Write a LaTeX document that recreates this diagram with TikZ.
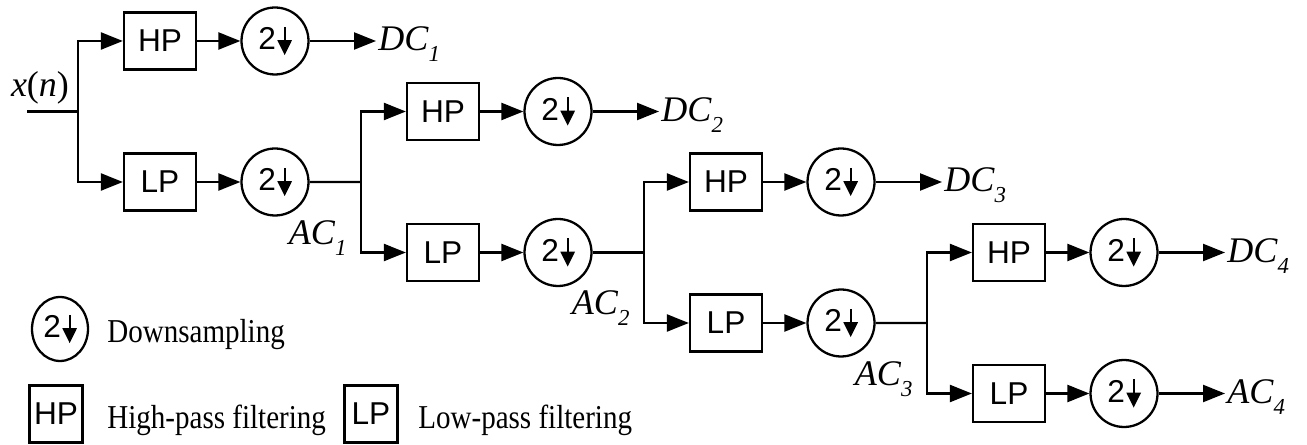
\documentclass[tikz,border=0pt]{standalone}
\usepackage{fontspec}
\setmainfont{Liberation Serif}
\setsansfont{Liberation Sans}
\newfontfamily\legendfont[FakeStretch=0.87]{Liberation Serif}
\usepackage{tikz}
\usetikzlibrary{arrows.meta,shapes.geometric}
\newcommand\dsarrow{\tikz[baseline=0pt]\draw[line width=1.3pt,-{Triangle[length=3mm,width=2.8mm]}] (0,0.72em) -- (0,-0.18em);}
\newcommand\twodown{\raisebox{-0.12em}{2\hspace{1pt}\dsarrow}}
\newcommand\sig[2]{\textit{#1}\raisebox{-0.3em}{\fontsize{13pt}{13pt}\selectfont\itshape #2}}
\tikzset{
  filterbox/.style={draw,line width=1.3pt,minimum width=1.44cm,minimum height=1.14cm,inner sep=0pt,
    font=\sffamily\fontsize{18pt}{18pt}\selectfont},
  downbox/.style={draw,circle,line width=1.3pt,minimum size=1.34cm,inner sep=0pt,
    font=\sffamily\fontsize{18pt}{18pt}\selectfont},
  signalarrow/.style={-{Triangle[length=4.4mm,width=3.4mm]},line width=1.3pt},
  signalline/.style={line width=1.3pt},
  signallabel/.style={inner sep=0pt,font=\fontsize{20.5pt}{20.5pt}\selectfont},
  legendtext/.style={inner sep=0pt,anchor=base west,font=\legendfont\fontsize{19pt}{19pt}\selectfont}
}
\begin{document}
\begin{tikzpicture}[x=0.02cm,y=-0.02cm]
  \useasboundingbox (0,0) rectangle (1307,445);
  \coordinate (input) at (27,111.5);
  \node[signallabel,anchor=base] (xlab) at (40,97) {\textit{x}(\textit{n})};
  \begin{scope}[shift={(78,41)}]
    \coordinate (splitone) at (0,70.5);
    \node[filterbox] (hpone) at (82,0) {HP};
    \node[downbox] (hdone) at (197,0) {\twodown};
    \coordinate (dcone) at (298,0);
    \node[signallabel,anchor=base west] (dconelab) at (300,10) {\sig{DC}{1}};
    \node[filterbox] (lpone) at (82,141) {LP};
    \node[downbox] (ldone) at (197,141) {\twodown};
    \node[signallabel,anchor=base east] (aconelab) at (269,203.5) {\sig{AC}{1}};
  \end{scope}
  \begin{scope}[shift={(361,111.5)}]
    \coordinate (splittwo) at (0,70.5);
    \node[filterbox] (hptwo) at (82,0) {HP};
    \node[downbox] (hdtwo) at (197,0) {\twodown};
    \coordinate (dctwo) at (298,0);
    \node[signallabel,anchor=base west] (dctwolab) at (300,10) {\sig{DC}{2}};
    \node[filterbox] (lptwo) at (82,141) {LP};
    \node[downbox] (ldtwo) at (197,141) {\twodown};
    \node[signallabel,anchor=base east] (actwolab) at (269,203.5) {\sig{AC}{2}};
  \end{scope}
  \begin{scope}[shift={(644,182)}]
    \coordinate (splitthree) at (0,70.5);
    \node[filterbox] (hpthree) at (82,0) {HP};
    \node[downbox] (hdthree) at (197,0) {\twodown};
    \coordinate (dcthree) at (298,0);
    \node[signallabel,anchor=base west] (dcthreelab) at (300,10) {\sig{DC}{3}};
    \node[filterbox] (lpthree) at (82,141) {LP};
    \node[downbox] (ldthree) at (197,141) {\twodown};
    \node[signallabel,anchor=base east] (acthreelab) at (269,203.5) {\sig{AC}{3}};
  \end{scope}
  \begin{scope}[shift={(927,252.5)}]
    \coordinate (splitfour) at (0,70.5);
    \node[filterbox] (hpfour) at (82,0) {HP};
    \node[downbox] (hdfour) at (197,0) {\twodown};
    \coordinate (dcfour) at (298,0);
    \node[signallabel,anchor=base west] (dcfourlab) at (300,10) {\sig{DC}{4}};
    \node[filterbox] (lpfour) at (82,141) {LP};
    \node[downbox] (ldfour) at (197,141) {\twodown};
    \coordinate (acfour) at (298,141);
    \node[signallabel,anchor=base west] (acfourlab) at (300,151) {\sig{AC}{4}};
  \end{scope}
  \draw[signalline] (input)--(splitone);
  \draw[signalarrow] (splitone)|-(hpone);
  \draw[signalarrow] (splitone)|-(lpone);
  \draw[signalarrow] (hpone)--(hdone);
  \draw[signalarrow] (hdone)--(dcone);
  \draw[signalarrow] (lpone)--(ldone);
  \draw[signalline] (ldone)--(splittwo);
  \draw[signalarrow] (splittwo)|-(hptwo);
  \draw[signalarrow] (splittwo)|-(lptwo);
  \draw[signalarrow] (hptwo)--(hdtwo);
  \draw[signalarrow] (hdtwo)--(dctwo);
  \draw[signalarrow] (lptwo)--(ldtwo);
  \draw[signalline] (ldtwo)--(splitthree);
  \draw[signalarrow] (splitthree)|-(hpthree);
  \draw[signalarrow] (splitthree)|-(lpthree);
  \draw[signalarrow] (hpthree)--(hdthree);
  \draw[signalarrow] (hdthree)--(dcthree);
  \draw[signalarrow] (lpthree)--(ldthree);
  \draw[signalline] (ldthree)--(splitfour);
  \draw[signalarrow] (splitfour)|-(hpfour);
  \draw[signalarrow] (splitfour)|-(lpfour);
  \draw[signalarrow] (hpfour)--(hdfour);
  \draw[signalarrow] (hdfour)--(dcfour);
  \draw[signalarrow] (lpfour)--(ldfour);
  \draw[signalarrow] (ldfour)--(acfour);
  \node[downbox,ellipse,minimum width=1.12cm,minimum height=1.28cm] (legds) at (60,329) {\twodown};
  \node[legendtext] (legdstext) at (107,343) {Downsampling};
  \node[filterbox,minimum width=1.06cm] (leghp) at (56,414) {HP};
  \node[legendtext] (leghptext) at (107,428) {High-pass filtering};
  \node[filterbox,minimum width=1.06cm] (leglp) at (371,414) {LP};
  \node[legendtext] (leglptext) at (418,428) {Low-pass filtering};
\end{tikzpicture}
\end{document}
